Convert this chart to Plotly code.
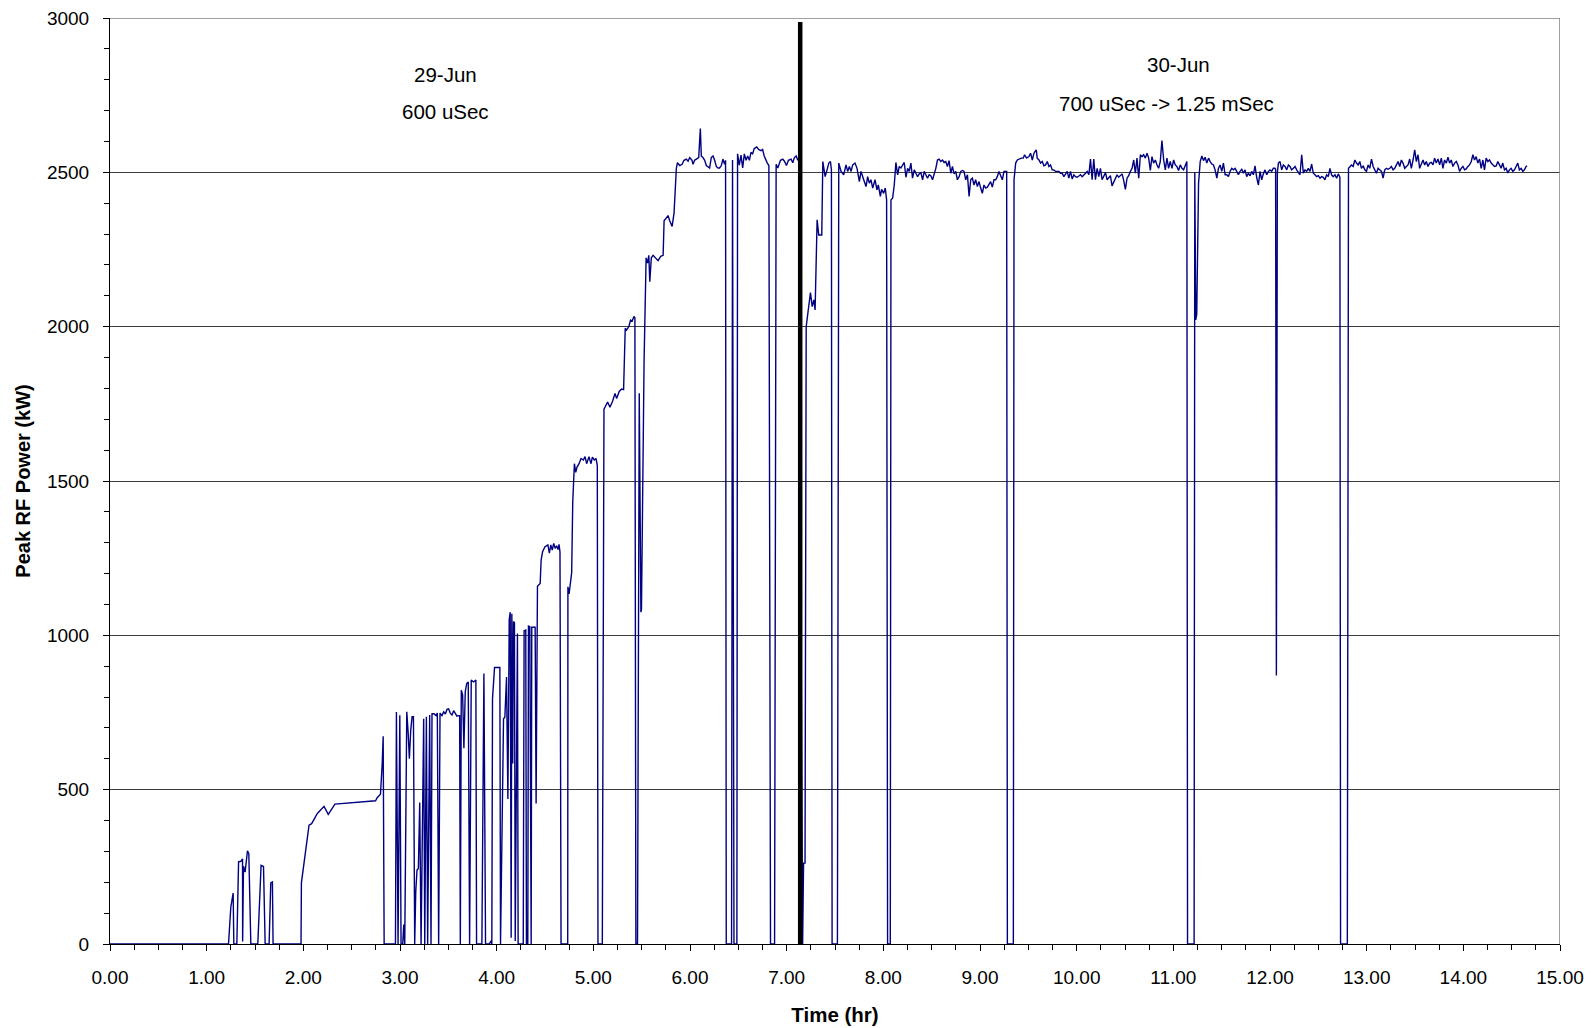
import numpy as np
import plotly.graph_objects as go

# ---------------------------------------------------------------
# Peak RF power log, 29-Jun (600 uSec) and 30-Jun (700 uSec -> 1.25 mSec)
# time in hours, power in kW
# ---------------------------------------------------------------

# 29-Jun: first low-power pulses and slow ramp to ~470 kW
t_start = [0.00, 1.226, 1.25, 1.274, 1.281, 1.312, 1.33, 1.354, 1.371, 1.372, 1.381, 1.398,
           1.422, 1.436, 1.457, 1.529, 1.563, 1.588, 1.605, 1.646, 1.663, 1.68, 1.687,
           1.976, 1.98, 2.059, 2.086, 2.145, 2.214, 2.258, 2.327, 2.747, 2.764, 2.798,
           2.816, 2.826, 2.836]
p_start = [0, 0, 120, 165, 0, 0, 266, 268, 276, 8, 252, 233,
           302, 293, 0, 0, 255, 251, 0, 0, 198, 201, 0,
           0, 198, 385, 390, 423, 446, 420, 453, 464, 474, 485,
           585, 673, 0]

# 29-Jun: frequent trips between 750 and 1070 kW
t_trips = [2.953, 2.963, 2.98, 2.998, 3.011, 3.028, 3.039, 3.049, 3.07, 3.084, 3.097, 3.111,
           3.125, 3.139, 3.152, 3.163, 3.176, 3.19, 3.204, 3.218, 3.245, 3.256, 3.273, 3.286,
           3.307, 3.321, 3.331, 3.352, 3.372, 3.386, 3.40, 3.414, 3.434, 3.452, 3.469, 3.486,
           3.503, 3.52, 3.538, 3.555, 3.572, 3.589, 3.606, 3.617, 3.624, 3.634, 3.648, 3.661,
           3.675, 3.69, 3.706, 3.72, 3.737, 3.761, 3.785, 3.792, 3.847, 3.868, 3.885, 3.923,
           3.944, 3.95, 3.957, 3.978, 4.033, 4.04, 4.071, 4.085, 4.102, 4.116, 4.13, 4.14,
           4.15, 4.157, 4.166, 4.174, 4.184, 4.192, 4.215, 4.222, 4.275, 4.284, 4.301, 4.308,
           4.322, 4.329, 4.343, 4.35, 4.357, 4.363, 4.398, 4.408]
p_trips = [0, 752, 0, 741, 0, 0, 63, 0, 752, 687, 600, 693,
           736, 736, 0, 170, 240, 245, 458, 0, 730, 0, 736, 0,
           742, 0, 746, 746, 740, 748, 0, 748, 740, 752, 745, 760,
           762, 748, 742, 756, 745, 738, 740, 740, 0, 822, 807, 634,
           817, 844, 849, 0, 855, 849, 855, 0, 0, 876, 0, 0,
           10, 0, 795, 896, 896, 0, 730, 735, 865, 470, 1050, 1075,
           20, 1070, 585, 1045, 1040, 10, 1006, 0, 0, 1015, 1017, 0,
           0, 1030, 1028, 0, 0, 1026, 1026, 455]

# 29-Jun: stepped ramp from 1150 kW up to 2500 kW
t_steps = [4.422, 4.45, 4.46, 4.475, 4.50, 4.53, 4.545, 4.56, 4.575, 4.59, 4.605, 4.62,
           4.635, 4.645, 4.655, 4.666, 4.735, 4.737, 4.749, 4.776, 4.787, 4.804, 4.818, 4.831,
           4.852, 4.873, 4.897, 4.914, 4.931, 4.955, 4.976, 4.99, 5.01, 5.028, 5.041, 5.048,
           5.093, 5.11, 5.127, 5.148, 5.172, 5.20, 5.224, 5.241, 5.268, 5.292, 5.313, 5.32,
           5.33, 5.344, 5.368, 5.385, 5.402, 5.42, 5.43, 5.44, 5.457, 5.475, 5.492, 5.498,
           5.525, 5.546, 5.56, 5.574, 5.584, 5.60, 5.618, 5.642, 5.67, 5.697, 5.722, 5.732,
           5.756, 5.773, 5.79, 5.815, 5.835, 5.859, 5.87, 5.894, 5.918, 5.938, 5.962, 5.98,
           5.997, 6.021, 6.031, 6.048, 6.066, 6.09, 6.107, 6.117, 6.134, 6.152, 6.169, 6.186,
           6.203, 6.22, 6.238, 6.255, 6.272, 6.29, 6.306, 6.324, 6.341, 6.358, 6.368, 6.375,
           6.43, 6.44, 6.455, 6.485, 6.492, 6.51, 6.528, 6.545, 6.562, 6.58, 6.597, 6.614,
           6.631, 6.648, 6.665, 6.69, 6.71, 6.734, 6.751, 6.768, 6.785, 6.80, 6.816, 6.833,
           6.875, 6.891, 6.908, 6.936, 6.96, 6.977, 6.998, 7.018, 7.046, 7.063, 7.08, 7.098,
           7.115, 7.125]
p_steps = [1159, 1168, 1244, 1271, 1287, 1293, 1266, 1293, 1276, 1298, 1282, 1290,
           1278, 1295, 1270, 0, 0, 1157, 1134, 1203, 1431, 1556, 1528, 1545,
           1556, 1573, 1568, 1579, 1556, 1579, 1556, 1577, 1568, 1573, 1550, 0,
           0, 1733, 1744, 1756, 1739, 1759, 1784, 1767, 1790, 1798, 1796, 1898,
           1995, 1989, 2001, 2021, 2018, 2033, 2029, 0, 0, 1784, 1075, 1084,
           1889, 2223, 2206, 2231, 2146, 2223, 2231, 2223, 2214, 2228, 2231, 2343,
           2351, 2360, 2343, 2325, 2368, 2514, 2531, 2522, 2526, 2539, 2543, 2536,
           2548, 2539, 2526, 2539, 2543, 2548, 2642, 2553, 2548, 2539, 2522, 2519,
           2514, 2548, 2553, 2539, 2519, 2514, 2514, 2522, 2543, 2526, 2539, 0,
           0, 2540, 0, 0, 2560, 2523, 2556, 2514, 2560, 2539, 2553, 2539,
           2565, 2560, 2577, 2582, 2574, 2570, 2574, 2553, 2539, 2530, 2522, 0,
           0, 2526, 2514, 2539, 2543, 2536, 2522, 2539, 2543, 2531, 2548, 2553,
           2539, 2545]

# 30-Jun: recovery after the day change and running at ~2500 kW
t_jun30_a = [7.165, 7.175, 7.19, 7.202, 7.219, 7.246, 7.264, 7.281, 7.294, 7.305, 7.315, 7.332,
             7.363, 7.374, 7.398, 7.418, 7.436, 7.453, 7.463, 7.47, 7.525, 7.539, 7.563, 7.59,
             7.614, 7.631, 7.649, 7.666, 7.683, 7.707, 7.728, 7.752, 7.769, 7.797, 7.821, 7.838,
             7.855, 7.872, 7.89, 7.914, 7.934, 7.948, 7.969, 7.982, 8.003, 8.02, 8.034, 8.044,
             8.072, 8.079, 8.096, 8.113, 8.13, 8.148, 8.165, 8.182, 8.20, 8.216, 8.234, 8.251,
             8.268, 8.285, 8.302, 8.32, 8.337, 8.354, 8.371, 8.388, 8.406, 8.423, 8.44, 8.457,
             8.474, 8.491, 8.509, 8.526, 8.543, 8.56, 8.577, 8.594, 8.612, 8.629, 8.646, 8.663,
             8.68, 8.698, 8.715, 8.732, 8.749, 8.766, 8.784, 8.801, 8.818, 8.835, 8.852, 8.87,
             8.887, 8.904, 8.921, 8.938, 8.955, 8.973, 8.99, 9.007, 9.024, 9.041, 9.059, 9.076,
             9.093, 9.11, 9.127, 9.145, 9.162, 9.179, 9.196, 9.213, 9.231, 9.248, 9.276, 9.283]
p_jun30_a = [0, 262, 262, 2000, 2043, 2110, 2065, 2087, 2054, 2216, 2346, 2297,
             2297, 2535, 2486, 2508, 2530, 2535, 2508, 0, 0, 2530, 2503, 2492,
             2524, 2503, 2519, 2503, 2524, 2530, 2513, 2470, 2503, 2476, 2454, 2486,
             2465, 2476, 2449, 2476, 2443, 2459, 2422, 2445, 2432, 2449, 2411, 0,
             0, 2411, 2416, 2459, 2532, 2492, 2519, 2514, 2524, 2532, 2484, 2513,
             2503, 2530, 2481, 2508, 2497, 2486, 2495, 2499, 2476, 2503, 2492, 2481,
             2492, 2489, 2476, 2492, 2513, 2540, 2543, 2535, 2540, 2532, 2535, 2519,
             2538, 2497, 2519, 2495, 2503, 2476, 2486, 2503, 2506, 2503, 2476, 2492,
             2422, 2476, 2481, 2459, 2476, 2454, 2470, 2449, 2432, 2459, 2449, 2452,
             2459, 2470, 2452, 2476, 2476, 2486, 2503, 2492, 2476, 2503, 2503, 0]

t_jun30_b = [9.345, 9.352, 9.369, 9.386, 9.403, 9.427, 9.448, 9.461, 9.482, 9.506, 9.523, 9.541,
             9.558, 9.582, 9.592, 9.61, 9.627, 9.644, 9.661, 9.678, 9.696, 9.713, 9.73, 9.747,
             9.764, 9.782, 9.799, 9.816, 9.833, 9.85, 9.868, 9.885, 9.902, 9.919, 9.936, 9.954,
             9.971, 9.988, 10.005, 10.023, 10.04, 10.057, 10.074, 10.091, 10.109, 10.126, 10.143,
             10.16, 10.177, 10.194, 10.212, 10.229, 10.246, 10.263, 10.28, 10.298, 10.315, 10.332,
             10.349, 10.366, 10.384, 10.401, 10.418, 10.435, 10.452, 10.47, 10.487, 10.504,
             10.521, 10.538, 10.556, 10.573, 10.59, 10.607, 10.624, 10.642, 10.659, 10.676,
             10.693, 10.71, 10.728, 10.745, 10.762, 10.779, 10.796, 10.814, 10.831, 10.848,
             10.865, 10.882, 10.90, 10.917, 10.934, 10.951, 10.968, 10.986, 11.003, 11.02,
             11.037, 11.054, 11.072, 11.089, 11.106, 11.123, 11.14, 11.147]
p_jun30_b = [0, 2476, 2530, 2540, 2543, 2546, 2546, 2557, 2546, 2551, 2562, 2540,
             2562, 2573, 2546, 2540, 2530, 2535, 2521, 2524, 2535, 2519, 2524, 2508,
             2508, 2503, 2503, 2503, 2497, 2497, 2486, 2497, 2503, 2481, 2503, 2478,
             2492, 2486, 2484, 2488, 2492, 2486, 2492, 2495, 2503, 2492, 2543,
             2476, 2543, 2476, 2513, 2486, 2513, 2476, 2486, 2499, 2476, 2481,
             2489, 2456, 2470, 2478, 2492, 2484, 2489, 2495, 2473, 2445,
             2481, 2489, 2503, 2513, 2540, 2497, 2546, 2481, 2557, 2551,
             2557, 2546, 2562, 2546, 2506, 2551, 2530, 2540, 2524, 2513,
             2535, 2603, 2540, 2508, 2546, 2513, 2535, 2513, 2540, 2524,
             2519, 2506, 2524, 2513, 2508, 2524, 2535, 0]

t_jun30_c = [11.215, 11.222, 11.232, 11.242, 11.261, 11.278, 11.295, 11.312, 11.329, 11.346,
             11.364, 11.381, 11.398, 11.415, 11.432, 11.45, 11.467, 11.484, 11.501, 11.518,
             11.536, 11.553, 11.57, 11.587, 11.604, 11.622, 11.639, 11.656, 11.673, 11.69,
             11.708, 11.725, 11.742, 11.759, 11.776, 11.794, 11.811, 11.828, 11.845, 11.862,
             11.88, 11.897, 11.914, 11.931, 11.948, 11.966, 11.983, 12.0, 12.017, 12.034,
             12.051, 12.058, 12.066, 12.076, 12.087, 12.104, 12.121, 12.138, 12.156, 12.173,
             12.19, 12.207, 12.224, 12.242, 12.259, 12.276, 12.293, 12.31, 12.328, 12.345,
             12.362, 12.379, 12.396, 12.414, 12.431, 12.448, 12.465, 12.482, 12.5, 12.517,
             12.534, 12.551, 12.568, 12.586, 12.603, 12.62, 12.637, 12.654, 12.672, 12.689,
             12.706, 12.723, 12.73, 12.80]
p_jun30_c = [0, 2500, 2022, 2040, 2465, 2535, 2553, 2538, 2549, 2530,
             2546, 2535, 2527, 2524, 2508, 2481, 2513, 2524, 2503, 2530,
             2492, 2492, 2486, 2503, 2513, 2508, 2513, 2503, 2492, 2503,
             2510, 2497, 2508, 2486, 2497, 2489, 2503, 2492, 2521, 2484,
             2459, 2503, 2476, 2495, 2508, 2492, 2503, 2508, 2503, 2513,
             2513, 2510, 870, 2500, 2530, 2535, 2508, 2524, 2519, 2508,
             2524, 2519, 2508, 2513, 2519, 2508, 2499, 2492, 2557, 2497,
             2508, 2503, 2513, 2503, 2527, 2497, 2492, 2486, 2489, 2481,
             2486, 2484, 2476, 2492, 2486, 2513, 2492, 2486, 2492, 2481,
             2495, 2484, 0, 0]

t_jun30_d = [12.812, 12.826, 12.843, 12.86, 12.878, 12.895, 12.912, 12.929, 12.946, 12.964,
             12.981, 12.998, 13.015, 13.032, 13.05, 13.067, 13.084, 13.101, 13.118, 13.136,
             13.153, 13.17, 13.187, 13.204, 13.222, 13.239, 13.256, 13.273, 13.29, 13.308,
             13.325, 13.342, 13.359, 13.376, 13.394, 13.411, 13.428, 13.445, 13.462, 13.48,
             13.497, 13.514, 13.531, 13.548, 13.566, 13.583, 13.6, 13.617, 13.634, 13.652,
             13.669, 13.686, 13.703, 13.72, 13.738, 13.755, 13.772, 13.789, 13.806, 13.824,
             13.841, 13.858, 13.875, 13.892, 13.91, 13.927, 13.944, 13.961, 13.978, 13.996,
             14.013, 14.03, 14.047, 14.064, 14.082, 14.099, 14.116, 14.133, 14.15, 14.168,
             14.185, 14.202, 14.219, 14.236, 14.254, 14.271, 14.288, 14.305, 14.322, 14.34,
             14.357, 14.374, 14.391, 14.408, 14.426, 14.443, 14.46, 14.477, 14.494, 14.512,
             14.529, 14.546, 14.563, 14.58, 14.598, 14.615, 14.632, 14.649, 14.66]
p_jun30_d = [2513, 2519, 2524, 2519, 2540, 2530, 2524, 2535, 2513, 2521,
             2508, 2503, 2524, 2513, 2543, 2519, 2508, 2497, 2513, 2508,
             2503, 2481, 2508, 2513, 2510, 2513, 2519, 2508, 2513, 2524,
             2535, 2519, 2540, 2530, 2513, 2519, 2524, 2543, 2513, 2540,
             2573, 2535, 2557, 2513, 2530, 2540, 2524, 2535, 2519, 2530,
             2532, 2524, 2546, 2530, 2543, 2524, 2546, 2513, 2540, 2530,
             2549, 2530, 2540, 2519, 2530, 2535, 2524, 2503, 2513, 2519,
             2508, 2511, 2519, 2524, 2535, 2557, 2540, 2551, 2530, 2543,
             2513, 2540, 2508, 2546, 2535, 2540, 2530, 2524, 2519, 2521,
             2535, 2524, 2513, 2530, 2508, 2513, 2498, 2508, 2513, 2503,
             2508, 2519, 2530, 2508, 2513, 2503, 2508, 2519, 2521]

# day change between the two runs
DAY_BOUNDARY_HR = 7.14

# axis ticks
x_ticks = list(range(0, 16))
x_tick_text = [f"{v:.2f}" for v in x_ticks]
y_ticks = [0, 500, 1000, 1500, 2000, 2500, 3000]

# run notes
notes = [
    (3.47, 2816, "29-Jun"),
    (3.47, 2697, "600 uSec"),
    (11.05, 2850, "30-Jun"),
    (10.93, 2724, "700 uSec -> 1.25 mSec"),
]

time_hr = np.concatenate([t_start, t_trips, t_steps, t_jun30_a, t_jun30_b, t_jun30_c, t_jun30_d])
power_kw = np.concatenate([p_start, p_trips, p_steps, p_jun30_a, p_jun30_b, p_jun30_c, p_jun30_d])

FONT = "Liberation Sans, Arial, sans-serif"

fig = go.Figure()
fig.add_trace(go.Scatter(
    x=time_hr, y=power_kw, mode="lines",
    line=dict(color="#000080", width=1.4),
    showlegend=False, hoverinfo="x+y",
))

fig.update_layout(
    width=1591, height=1028,
    margin=dict(l=110, r=31, t=18, b=84),
    paper_bgcolor="white", plot_bgcolor="white",
    font=dict(family=FONT, size=19, color="black"),
    xaxis=dict(
        range=[0, 15], tickvals=x_ticks, ticktext=x_tick_text,
        automargin=False,
        showgrid=False, zeroline=False,
        showline=True, linecolor="black", linewidth=1,
        ticks="outside", ticklen=6, tickcolor="black", tickwidth=1,
        minor=dict(dtick=0.25, tick0=0, ticks="outside", ticklen=5, tickcolor="black", showgrid=False),
        ticklabelstandoff=10,
        title=dict(text="<b>Time (hr)</b>", font=dict(size=20.5), standoff=20),
    ),
    xaxis2=dict(
        range=[0, 15], overlaying="x", anchor="y", side="bottom", automargin=False,
        tickvals=x_ticks, showticklabels=False, ticks="inside", ticklen=6,
        tickcolor="black", showgrid=False, zeroline=False, showline=False,
    ),
    yaxis=dict(
        range=[0, 3000], tickvals=y_ticks,
        automargin=False,
        showgrid=True, gridcolor="#3c3c3c", gridwidth=1, zeroline=False,
        showline=True, linecolor="black", linewidth=1,
        ticks="outside", ticklen=6, tickcolor="black",
        minor=dict(dtick=100, tick0=0, ticks="outside", ticklen=5, tickcolor="black", showgrid=False),
        ticklabelstandoff=10,
        title=dict(text="<b>Peak RF Power (kW)</b>", font=dict(size=20), standoff=10),
    ),
)

# plot-area frame (top and right) in grey
fig.add_shape(type="line", xref="x", yref="y", x0=0, x1=15, y0=3000, y1=3000,
              line=dict(color="#808080", width=1.5), layer="above")
fig.add_shape(type="line", xref="x", yref="y", x0=15, x1=15, y0=0, y1=3000,
              line=dict(color="#808080", width=1.5), layer="above")

# heavy divider at the day change
fig.add_shape(type="line", xref="x", yref="y", x0=DAY_BOUNDARY_HR, x1=DAY_BOUNDARY_HR,
              y0=0, y1=2987, line=dict(color="black", width=4.5), layer="above")

for x, y, text in notes:
    fig.add_annotation(x=x, y=y, xref="x", yref="y", text=text, showarrow=False,
                       font=dict(family=FONT, size=20.5, color="black"))

fig.write_html("out.html")
